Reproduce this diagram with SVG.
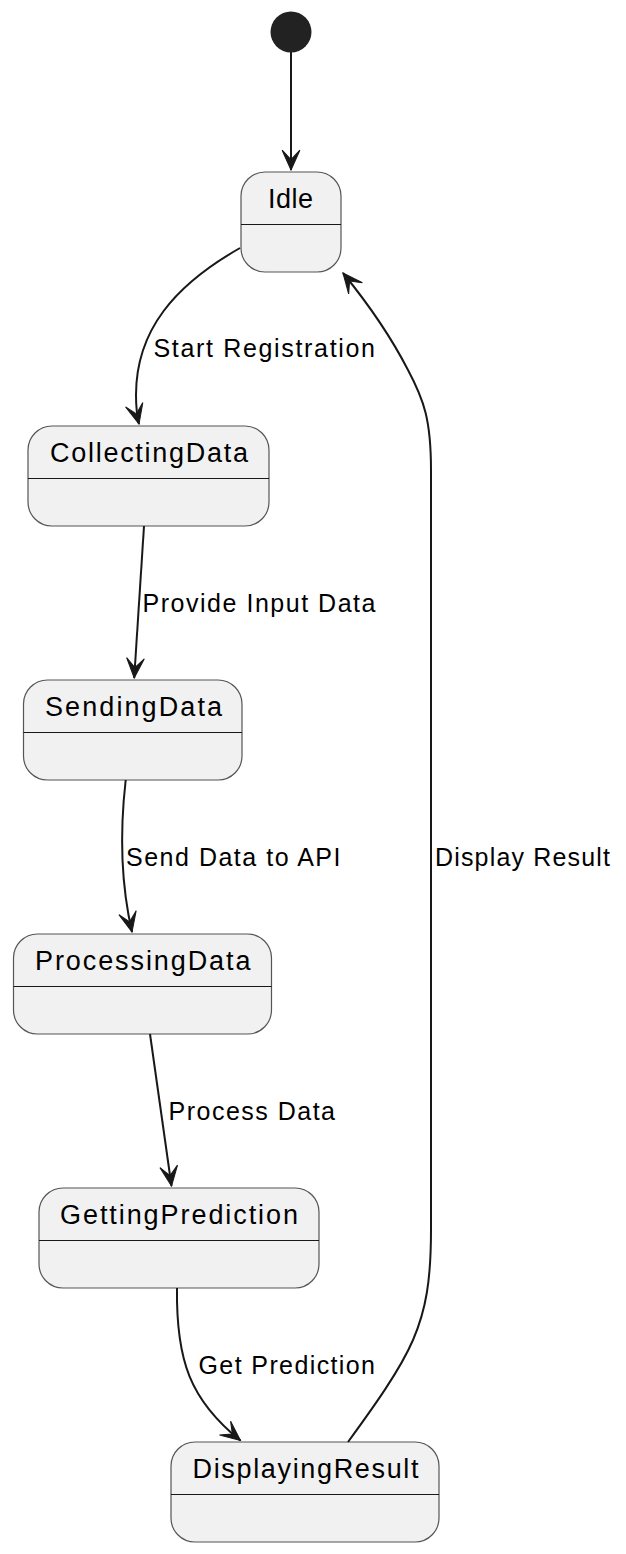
<svg xmlns="http://www.w3.org/2000/svg" width="626" height="1554" viewBox="0 0 626 1554">
<style>
.box{fill:#F1F1F1;stroke:#555555;stroke-width:1.2}
.div{stroke:#181818;stroke-width:1.2}
.title{font-family:"Liberation Sans",Arial,sans-serif;font-size:27px;fill:#000}
.lbl{font-family:"Liberation Sans",Arial,sans-serif;font-size:25px;fill:#000}
.edge{fill:none;stroke:#181818;stroke-width:2}
</style>
<defs>
<marker id="ah" markerUnits="userSpaceOnUse" markerWidth="24" markerHeight="24" viewBox="-21 -11 23 22" refX="0" refY="0" orient="auto">
<path d="M0,0 L-19,-8.5 L-10,0 L-19,8.5 Z" fill="#181818" stroke="#181818" stroke-width="1" stroke-linejoin="miter"/>
</marker>
</defs>
<rect width="626" height="1554" fill="#FFFFFF"/>
<g id="start"><circle cx="291" cy="32" r="20.5" fill="#222222"/></g>
<g id="Idle"><rect class="box" x="241" y="172" width="100" height="100" rx="24"/><line class="div" x1="241" y1="224.5" x2="341" y2="224.5"/><text class="title" x="268" y="208" textLength="45" lengthAdjust="spacing">Idle</text></g>
<g id="CollectingData"><rect class="box" x="28" y="426" width="241" height="100" rx="24"/><line class="div" x1="28" y1="478.5" x2="269" y2="478.5"/><text class="title" x="50" y="462" textLength="198" lengthAdjust="spacing">CollectingData</text></g>
<g id="SendingData"><rect class="box" x="23.5" y="680" width="218.5" height="100" rx="24"/><line class="div" x1="23.5" y1="732.5" x2="242" y2="732.5"/><text class="title" x="45" y="716" textLength="177" lengthAdjust="spacing">SendingData</text></g>
<g id="ProcessingData"><rect class="box" x="13.5" y="934" width="258" height="100" rx="24"/><line class="div" x1="13.5" y1="986.5" x2="271.5" y2="986.5"/><text class="title" x="35" y="970" textLength="215.5" lengthAdjust="spacing">ProcessingData</text></g>
<g id="GettingPrediction"><rect class="box" x="39" y="1188" width="280" height="100" rx="24"/><line class="div" x1="39" y1="1240.5" x2="319" y2="1240.5"/><text class="title" x="60" y="1224" textLength="238" lengthAdjust="spacing">GettingPrediction</text></g>
<g id="DisplayingResult"><rect class="box" x="171" y="1442" width="268" height="100" rx="24"/><line class="div" x1="171" y1="1494.5" x2="439" y2="1494.5"/><text class="title" x="192.5" y="1478" textLength="226" lengthAdjust="spacing">DisplayingResult</text></g>
<g id="connectors">
<path class="edge" d="M291,52 L291,170" marker-end="url(#ah)"/>
<path class="edge" d="M240,248 C175,285 136,330 136,395 C136,408 137,416 139,424" marker-end="url(#ah)"/>
<path class="edge" d="M144,526 L134.2,678" marker-end="url(#ah)"/>
<path class="edge" d="M125.7,780 C120,830 120,880 132,932" marker-end="url(#ah)"/>
<path class="edge" d="M150,1034 L171.5,1186" marker-end="url(#ah)"/>
<path class="edge" d="M177,1288 C176,1360 190,1400 240.5,1440.5" marker-end="url(#ah)"/>
<path class="edge" d="M348,1442 C375,1405 400,1370 413,1340 C426,1310 431,1280 431,1230 L431,470 C431,420 424,400 408,370 C390,335 365,300 343,273" marker-end="url(#ah)"/>
<text class="lbl" x="153.5" y="357" textLength="221.5" lengthAdjust="spacing">Start Registration</text>
<text class="lbl" x="142.5" y="611.5" textLength="233" lengthAdjust="spacing">Provide Input Data</text>
<text class="lbl" x="126" y="865.5" textLength="214.5" lengthAdjust="spacing">Send Data to API</text>
<text class="lbl" x="168.5" y="1119.5" textLength="166.5" lengthAdjust="spacing">Process Data</text>
<text class="lbl" x="198.5" y="1373.5" textLength="176.5" lengthAdjust="spacing">Get Prediction</text>
<text class="lbl" x="435" y="865.5" textLength="175" lengthAdjust="spacing">Display Result</text>
</g>
</svg>
